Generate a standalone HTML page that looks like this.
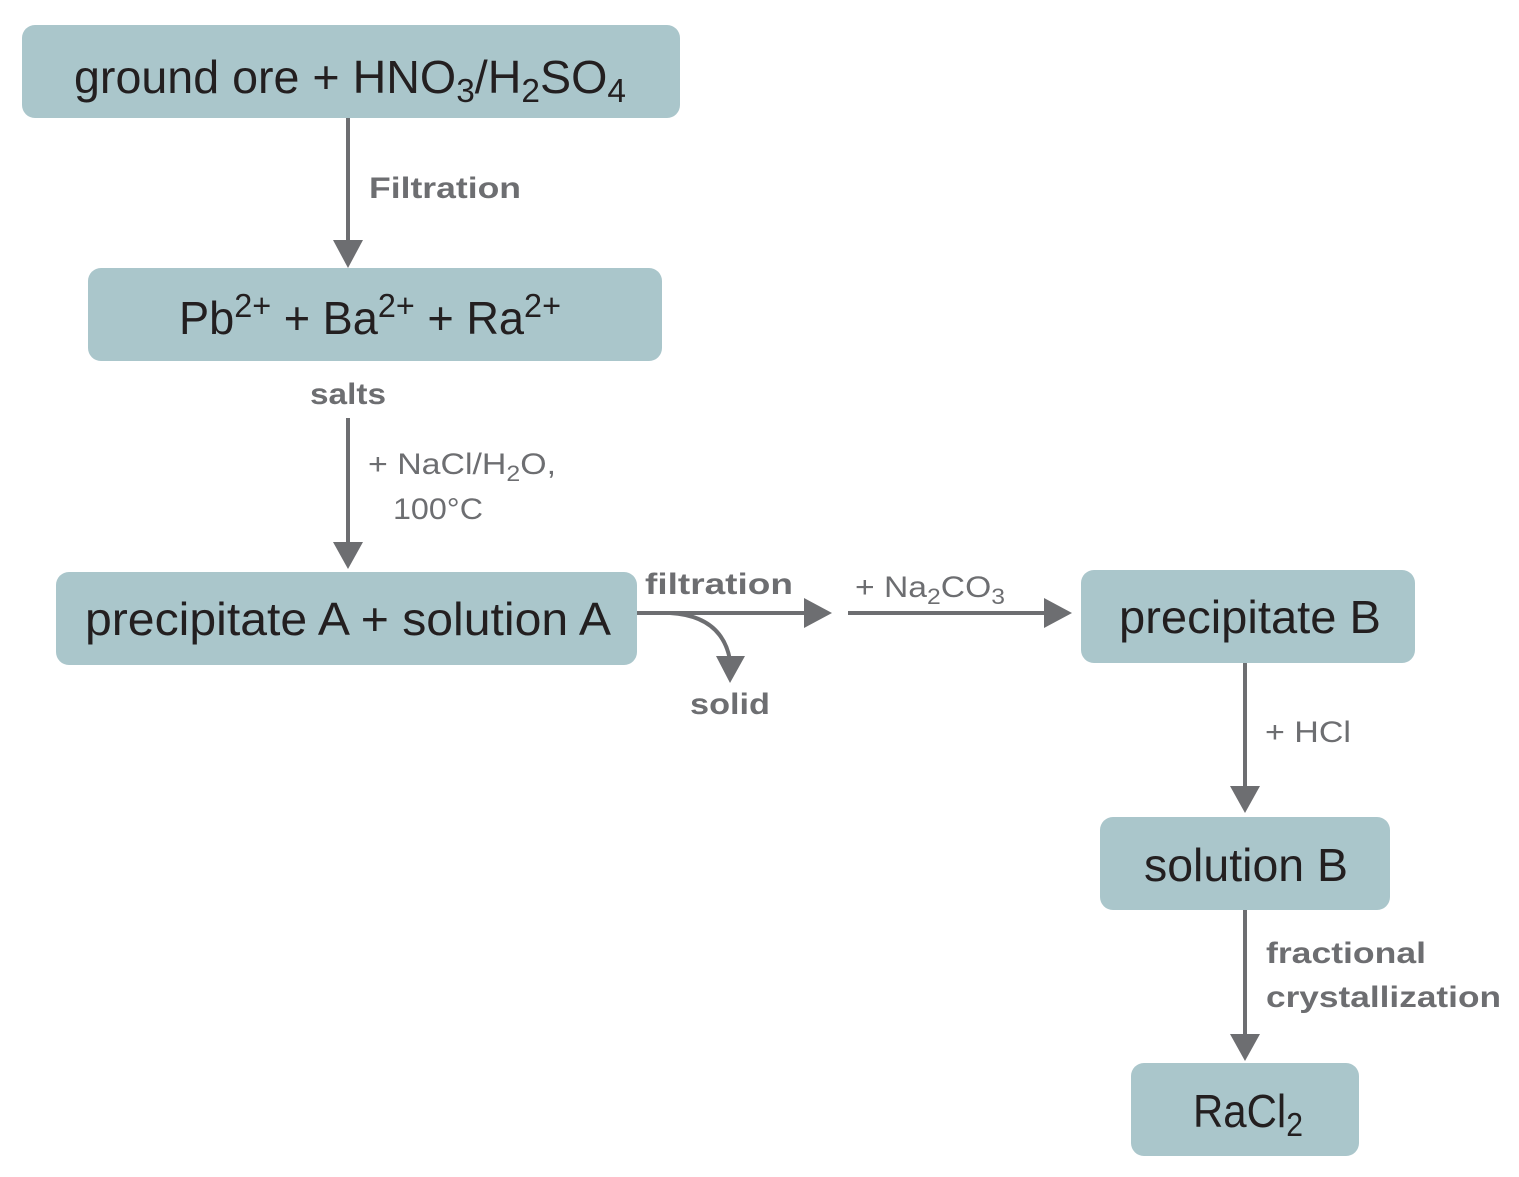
<!DOCTYPE html>
<html><head><meta charset="utf-8"><style>html,body{margin:0;padding:0;background:#fff}svg{display:block}</style></head>
<body>
<svg width="1519" height="1177" viewBox="0 0 1519 1177" xmlns="http://www.w3.org/2000/svg">
<g fill="#aac6cb">
<rect x="22" y="25" width="658" height="93" rx="13"/>
<rect x="88" y="268" width="574" height="93" rx="13"/>
<rect x="56" y="572" width="581" height="93" rx="13"/>
<rect x="1081" y="570" width="334" height="93" rx="13"/>
<rect x="1100" y="817" width="290" height="93" rx="13"/>
<rect x="1131" y="1063" width="228" height="93" rx="13"/>
</g>
<g stroke="#6d6e71" stroke-width="4" fill="none">
<line x1="348" y1="118" x2="348" y2="242"/>
<line x1="348" y1="418" x2="348" y2="544"/>
<line x1="1245" y1="663" x2="1245" y2="788"/>
<line x1="1245" y1="910" x2="1245" y2="1036"/>
<line x1="637" y1="613" x2="806" y2="613"/>
<line x1="848" y1="613" x2="1046" y2="613"/>
<path d="M670 613 Q722 616 730 660"/>
</g>
<g fill="#6d6e71">
<polygon points="333,240 363,240 348,268"/>
<polygon points="333,542 363,542 348,569"/>
<polygon points="1230,786 1260,786 1245,813"/>
<polygon points="1230,1034 1260,1034 1245,1061"/>
<polygon points="804,598 804,628 832,613"/>
<polygon points="1044,598 1044,628 1072,613"/>
<polygon points="716,656 745,656 730,683"/>
</g>
<g font-family="Liberation Sans, sans-serif" fill="#231f20" font-size="46" text-anchor="middle">
<text x="350" y="93" textLength="552" lengthAdjust="spacingAndGlyphs">ground ore + HNO<tspan font-size="33" dy="9">3</tspan><tspan dy="-9">/H</tspan><tspan font-size="33" dy="9">2</tspan><tspan dy="-9">SO</tspan><tspan font-size="33" dy="9">4</tspan></text>
<text x="370" y="334" textLength="382" lengthAdjust="spacingAndGlyphs">Pb<tspan font-size="33" dy="-17">2+</tspan><tspan dy="17"> + Ba</tspan><tspan font-size="33" dy="-17">2+</tspan><tspan dy="17"> + Ra</tspan><tspan font-size="33" dy="-17">2+</tspan></text>
<text x="348" y="635" textLength="526" lengthAdjust="spacingAndGlyphs">precipitate A + solution A</text>
<text x="1250" y="633" textLength="262" lengthAdjust="spacingAndGlyphs">precipitate B</text>
<text x="1246" y="881" textLength="204" lengthAdjust="spacingAndGlyphs">solution B</text>
<text x="1248" y="1127" textLength="110" lengthAdjust="spacingAndGlyphs">RaCl<tspan font-size="33" dy="9">2</tspan></text>
</g>
<g font-family="Liberation Sans, sans-serif" fill="#6d6e71" font-size="30">
<text x="369" y="198" font-weight="bold" textLength="152" lengthAdjust="spacingAndGlyphs">Filtration</text>
<text x="348" y="404" font-weight="bold" text-anchor="middle" textLength="76" lengthAdjust="spacingAndGlyphs">salts</text>
<text x="368" y="474" textLength="188" lengthAdjust="spacingAndGlyphs">+ NaCl/H<tspan font-size="22" dy="7">2</tspan><tspan dy="-7">O,</tspan></text>
<text x="393" y="519" textLength="90" lengthAdjust="spacingAndGlyphs">100°C</text>
<text x="645" y="594" font-weight="bold" textLength="148" lengthAdjust="spacingAndGlyphs">filtration</text>
<text x="855" y="597" textLength="150" lengthAdjust="spacingAndGlyphs">+ Na<tspan font-size="22" dy="7">2</tspan><tspan dy="-7">CO</tspan><tspan font-size="22" dy="7">3</tspan></text>
<text x="730" y="714" font-weight="bold" text-anchor="middle" textLength="80" lengthAdjust="spacingAndGlyphs">solid</text>
<text x="1265" y="742" textLength="86" lengthAdjust="spacingAndGlyphs">+ HCl</text>
<text x="1266" y="963" font-weight="bold" textLength="160" lengthAdjust="spacingAndGlyphs">fractional</text>
<text x="1266" y="1007" font-weight="bold" textLength="235" lengthAdjust="spacingAndGlyphs">crystallization</text>
</g>
</svg>
</body></html>
